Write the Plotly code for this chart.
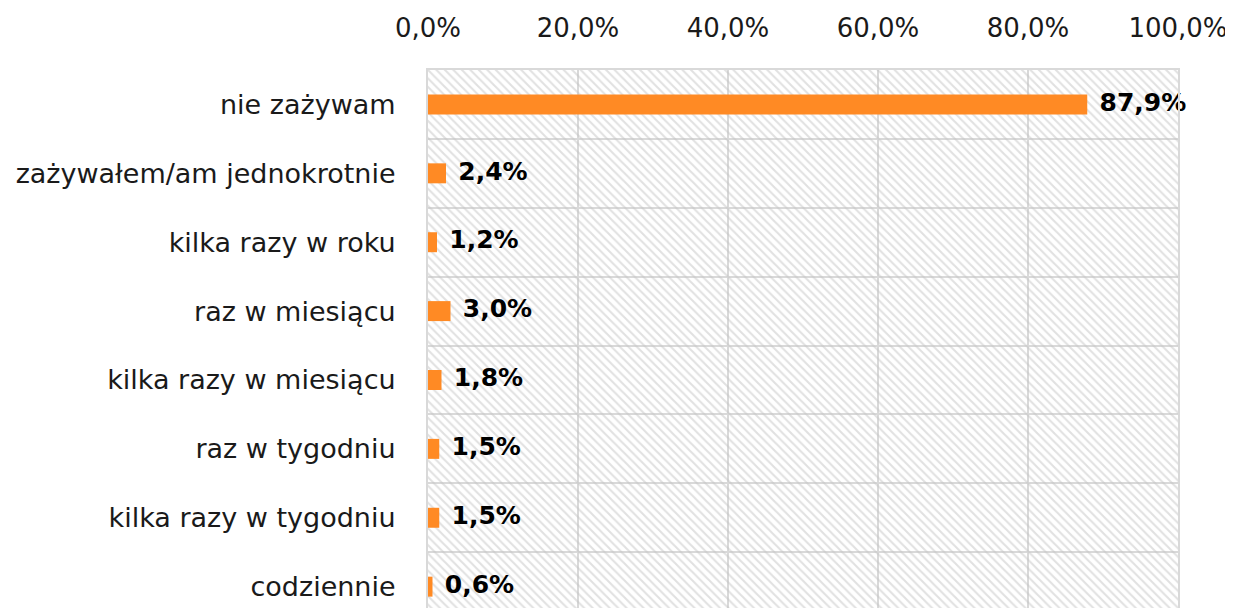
import plotly.graph_objects as go

categories = ["nie zażywam", "zażywałem/am jednokrotnie", "kilka razy w roku", "raz w miesiącu",
              "kilka razy w miesiącu", "raz w tygodniu", "kilka razy w tygodniu", "codziennie"]
values = [87.9, 2.4, 1.2, 3.0, 1.8, 1.5, 1.5, 0.6]
full_scale = [100.0] * len(categories)
labels = [f"{v:.1f}".replace(".", ",") + "%" for v in values]
tick_vals = [0, 20, 40, 60, 80, 100]
tick_text = ["0,0%", "20,0%", "40,0%", "60,0%", "80,0%", "100,0%"]

fig = go.Figure()
fig.add_trace(go.Bar(
    y=categories, x=full_scale, orientation="h", width=1.0,
    marker=dict(color="rgba(0,0,0,0)", line=dict(width=0),
                pattern=dict(shape="\\", fgcolor="#c4c4c4", bgcolor="rgba(0,0,0,0)", size=6, solidity=0.35)),
    hoverinfo="skip", showlegend=False,
))
fig.add_trace(go.Bar(
    y=categories, x=values, orientation="h", width=0.29,
    marker=dict(color="#FF8A24", line=dict(width=0)),
    showlegend=False,
))
fig.add_trace(go.Scatter(
    y=categories, x=values, mode="markers+text",
    marker=dict(size=18, opacity=0),
    text=labels, textposition="middle right", cliponaxis=False,
    textfont=dict(family="DejaVu Sans", size=25, color="#000000", weight="bold"),
    hoverinfo="skip", showlegend=False,
))

fig.update_layout(
    width=1225, height=600,
    margin=dict(l=420, r=55, t=62, b=0),
    barmode="overlay",
    plot_bgcolor="white", paper_bgcolor="white",
    font=dict(family="DejaVu Sans", size=27, color="#1a1a1a"),
)
fig.update_xaxes(
    range=[0, 100], side="top", tickvals=tick_vals, ticktext=tick_text,
    showgrid=True, gridcolor="#d9d9d9", gridwidth=2, zeroline=False,
    showline=True, linecolor="#d9d9d9", linewidth=2, mirror=True,
    ticks="", ticklabelstandoff=21, automargin=False,
    tickfont=dict(family="DejaVu Sans", size=26, color="#1a1a1a"),
)
fig.update_yaxes(
    type="category", categoryorder="array", categoryarray=categories,
    range=[7.31, -0.5], tickson="boundaries",
    showgrid=True, gridcolor="#d9d9d9", gridwidth=2, zeroline=False,
    showline=True, linecolor="#d9d9d9", linewidth=2, mirror=True,
    ticks="", ticklabelstandoff=25, automargin=False,
    tickfont=dict(family="DejaVu Sans", size=27, color="#1a1a1a"),
)

fig.write_html("out.html")
